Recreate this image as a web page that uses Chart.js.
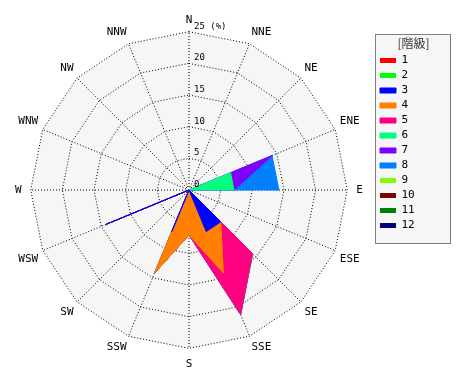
<!DOCTYPE html>
<html>
<head>
<meta charset="utf-8">
<script src="https://cdn.jsdelivr.net/npm/chart.js@4.4.1/dist/chart.umd.min.js"></script>
<style>
  html, body { margin: 0; padding: 0; background: #fff; }
  #wrap { width: 470px; height: 380px; }
</style>
</head>
<body>
<div id="wrap"><canvas id="rose" width="470" height="380"></canvas></div>
<script>
// 16 wind directions, clockwise from north
const directions = ['N', 'NNE', 'NE', 'ENE', 'E', 'ESE', 'SE', 'SSE', 'S', 'SSW', 'SW', 'WSW', 'W', 'WNW', 'NW', 'NNW'];

// frequency (%) of each class per direction
const class1  = [0, 0, 0, 0,   0,   0, 0,   0,   0,   0,   0, 0,    0, 0, 0, 0];
const class2  = [0, 0, 0, 0,   0,   0, 0,   0,   0,   0,   0, 0,    0, 0, 0, 0];
const class3  = [0, 0, 0, 0,   0,   0, 7.1, 7.1, 0,   7.1, 0, 14.3, 0, 0, 0, 0];
const class4  = [0, 0, 0, 0,   0,   0, 0,   7.1, 7.1, 7.1, 0, 0,    0, 0, 0, 0];
const class5  = [0, 0, 0, 0,   0,   0, 7.1, 7.1, 0,   0,   0, 0,    0, 0, 0, 0];
const class6  = [0, 0, 0, 7.1, 7.1, 0, 0,   0,   0,   0,   0, 0,    0, 0, 0, 0];
const class7  = [0, 0, 0, 7.1, 0,   0, 0,   0,   0,   0,   0, 0,    0, 0, 0, 0];
const class8  = [0, 0, 0, 0,   7.1, 0, 0,   0,   0,   0,   0, 0,    0, 0, 0, 0];
const class9  = [0, 0, 0, 0,   0,   0, 0,   0,   0,   0,   0, 0,    0, 0, 0, 0];
const class10 = [0, 0, 0, 0,   0,   0, 0,   0,   0,   0,   0, 0,    0, 0, 0, 0];
const class11 = [0, 0, 0, 0,   0,   0, 0,   0,   0,   0,   0, 0,    0, 0, 0, 0];
const class12 = [0, 0, 0, 0,   0,   0, 0,   0,   0,   0,   0, 0,    0, 0, 0, 0];

const classNames = ['1', '2', '3', '4', '5', '6', '7', '8', '9', '10', '11', '12'];
const tickValues = [0, 5, 10, 15, 20, 25];
const tickLabels = ['0', '5', '10', '15', '20', '25 (%)'];

const classColors = ['#ff0000', '#00ff00', '#0000ff', '#ff8000', '#ff0080', '#00ff80',
                     '#8000ff', '#0080ff', '#80ff00', '#800000', '#008000', '#000080'];

const classValues = [class1, class2, class3, class4, class5, class6,
                     class7, class8, class9, class10, class11, class12];

// stack the classes: each polygon is the running total, lower classes drawn on top
let running = directions.map(() => 0);
const datasets = classValues.map((vals, i) => {
    running = running.map((v, j) => v + vals[j]);
    const empty = vals.every(v => v === 0);
    return {
        label: classNames[i],
        data: running.slice(),
        backgroundColor: classColors[i],
        borderColor: classColors[i],
        borderWidth: empty ? 0 : 1,
        fill: empty ? false : 'origin',
        pointRadius: 0,
        pointHoverRadius: 0,
    };
});

// legend frame, like the dotted box in the original
const legendFrame = {
    id: 'legendFrame',
    afterLayout(chart) {
        const lg = chart.legend;
        lg.left = 376;
        lg.top = 35;
        lg.width = 75;
        lg.height = 209;
        lg.right = lg.left + lg.width;
        lg.bottom = lg.top + lg.height;
    },
    beforeDraw(chart) {
        const lg = chart.legend;
        const ctx = chart.ctx;
        ctx.save();
        ctx.fillStyle = '#f6f6f6';
        ctx.fillRect(lg.left, lg.top, lg.width, lg.height);
        ctx.strokeStyle = '#000';
        ctx.lineWidth = 1;
        ctx.setLineDash([1, 1]);
        ctx.strokeRect(lg.left - 0.5, lg.top - 0.5, lg.width, lg.height);
        ctx.restore();
    }
};

// value labels sit just right of the north axis, above each ring
const ringLabels = {
    id: 'ringLabels',
    afterDatasetsDraw(chart) {
        const r = chart.scales.r;
        const ctx = chart.ctx;
        ctx.save();
        ctx.font = '9px "DejaVu Sans Mono"';
        ctx.fillStyle = '#000';
        ctx.textAlign = 'left';
        ctx.textBaseline = 'bottom';
        tickValues.forEach((v, i) => {
            const d = r.getDistanceFromCenterForValue(v);
            ctx.fillText(tickLabels[i], r.xCenter + 5, r.yCenter - d - 1);
        });
        ctx.restore();
    }
};

new Chart(document.getElementById('rose'), {
    type: 'radar',
    data: { labels: directions, datasets: datasets },
    options: {
        responsive: false,
        animation: false,
        layout: { padding: { left: 0, right: 43, top: 11.5, bottom: 7.5 } },
        elements: { line: { tension: 0 } },
        scales: {
            r: {
                min: 0,
                max: 25,
                backgroundColor: '#f6f6f6',
                ticks: { stepSize: 5, display: false },
                grid: { color: '#000', lineWidth: 1, circular: false },
                border: { dash: [1, 2] },
                angleLines: { color: '#000', lineWidth: 1, borderDash: [1, 2] },
                pointLabels: {
                    color: '#000',
                    padding: (ctx) => (ctx.index === 4 || ctx.index === 8 || ctx.index === 12) ? 9 : 5,
                    font: { family: '"DejaVu Sans Mono"', size: 11 }
                }
            }
        },
        plugins: {
            legend: {
                position: 'right',
                align: 'start',
                title: {
                    display: true,
                    text: '[階級]',
                    color: '#333',
                    padding: { top: 2, bottom: 2 },
                    font: { family: '"Noto Sans CJK JP"', size: 12, lineHeight: 1 }
                },
                labels: {
                    color: '#000',
                    boxWidth: 16,
                    boxHeight: 5,
                    padding: 4,
                    font: { family: '"DejaVu Sans Mono"', size: 11 }
                }
            },
            tooltip: { enabled: false }
        }
    },
    plugins: [legendFrame, ringLabels]
});
</script>
</body>
</html>
